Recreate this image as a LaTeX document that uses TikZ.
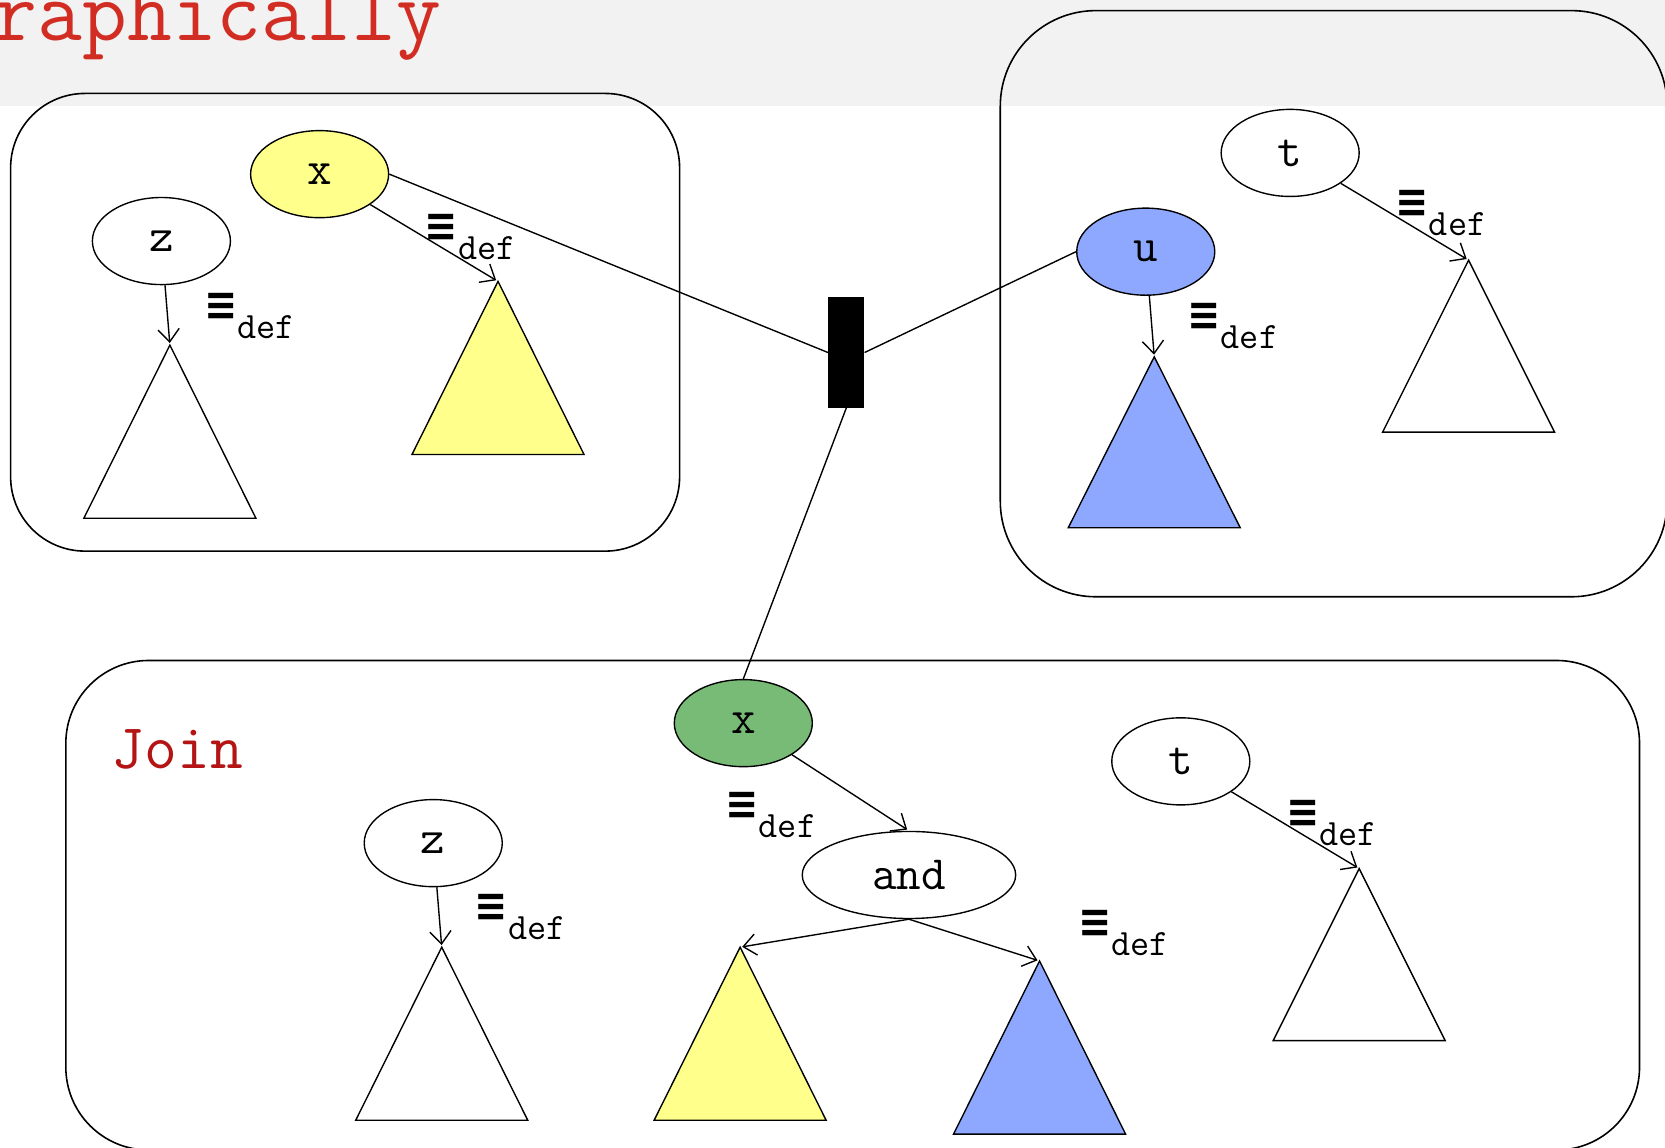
\documentclass[tikz,border=0pt]{standalone}
\usepackage{fontspec}
\usetikzlibrary{shapes.geometric,arrows.meta}
\newfontfamily\cour{Latin Modern Mono}
\newfontfamily\eqvfont{DejaVu Sans}
\definecolor{greybg}{RGB}{242,242,242}
\definecolor{titlered}{RGB}{210,45,35}
\definecolor{joinred}{RGB}{180,20,20}
\definecolor{yel}{RGB}{255,255,140}
\definecolor{blu}{RGB}{143,168,255}
\definecolor{grn}{RGB}{119,187,119}
\newcommand{\eqdef}{{\eqvfont\bfseries\fontsize{30}{30}\selectfont\scalebox{1.25}[1.45]{≡}}\raisebox{-17pt}{\cour\fontsize{35}{35}\selectfont def}}
\tikzset{
  ln/.style={line width=1.3pt},
  tree/.style={ellipse, draw, line width=1.3pt, minimum width=130pt, minimum height=82pt, inner sep=0pt, font=\cour\fontsize{45}{45}\selectfont},
  arr/.style={line width=1.3pt, -{Straight Barb[length=12pt,width=20pt,line width=1.3pt]}, shorten >=2pt},
  tri/.style={draw, line width=1.3pt, line join=miter},
  lbl/.style={anchor=base west, inner sep=0pt},
  panel/.style={draw, line width=1.5pt},
}
\begin{document}
\begin{tikzpicture}[x=1pt,y=-1pt]
\useasboundingbox (0,0) rectangle (1568,1081);
\clip (0,0) rectangle (1568,1081);
\fill[greybg] (0,0) rectangle (1568,100);
\node[anchor=base west, text=titlered, font=\cour\fontsize{82}{82}\selectfont, inner sep=0pt] (title) at (-7,38) {raphically};

% panels
\draw[panel, rounded corners=70pt] (10,88) rectangle (640,519);
\draw[panel, rounded corners=90pt] (942,10) rectangle (1570,562);
\draw[panel, rounded corners=78pt] (62,622) rectangle (1544,1083);

% top-left panel
\node[tree] (z1) at (152,227) {z};
\node[tree, fill=yel] (x1) at (301,164) {x};
\coordinate (tz1) at (160,325);
\coordinate (tx1) at (469,265);
\draw[tri] (tz1) -- ++(-81,163) -- ++(162,0) -- cycle;
\draw[tri, fill=yel] (tx1) -- ++(-81,163) -- ++(162,0) -- cycle;
\draw[arr] (z1) -- (tz1);
\draw[arr] (x1) -- (tx1);
\node[lbl] (l1) at (192,302) {\eqdef};
\node[lbl] (l2) at (400,227) {\eqdef};

% top-right panel
\node[tree] (t1) at (1215,144) {t};
\node[tree, fill=blu] (u1) at (1079,237) {u};
\coordinate (tt1) at (1383,245);
\coordinate (tu1) at (1087,336);
\draw[tri] (tt1) -- ++(-81,162) -- ++(162,0) -- cycle;
\draw[tri, fill=blu] (tu1) -- ++(-81,161) -- ++(162,0) -- cycle;
\draw[arr] (t1) -- (tt1);
\draw[arr] (u1) -- (tu1);
\node[lbl] (l3) at (1314,205) {\eqdef};
\node[lbl] (l4) at (1118,311) {\eqdef};

% join bar
\node[fill=black, minimum width=34pt, minimum height=104pt, inner sep=0pt] (bar) at (797,332) {};

% bottom panel
\node[anchor=base west, text=joinred, font=\cour\fontsize{60}{60}\selectfont, inner sep=0pt] (join) at (105,724) {Join};
\node[tree, fill=grn] (x2) at (700,681) {x};
\node[tree, minimum width=201pt] (and) at (856,824) {and};
\node[tree] (z2) at (408,794) {z};
\node[tree] (t2) at (1112,717) {t};
\coordinate (tz2) at (416,892);
\coordinate (ty2) at (697,892);
\coordinate (tb2) at (979,905);
\coordinate (tt2) at (1280,818);
\draw[tri] (tz2) -- ++(-81,163) -- ++(162,0) -- cycle;
\draw[tri, fill=yel] (ty2) -- ++(-81,163) -- ++(162,0) -- cycle;
\draw[tri, fill=blu] (tb2) -- ++(-81,163) -- ++(162,0) -- cycle;
\draw[tri] (tt2) -- ++(-81,162) -- ++(162,0) -- cycle;
\draw[arr] (x2) -- (and.north);
\draw[arr] (and.south) -- (ty2);
\draw[arr] (and.south) -- (tb2);
\draw[arr] (z2) -- (tz2);
\draw[arr] (t2) -- (tt2);
\node[lbl] (l5) at (683,772) {\eqdef};
\node[lbl] (l6) at (1211,779) {\eqdef};
\node[lbl] (l7) at (447,868) {\eqdef};
\node[lbl] (l8) at (1015,883) {\eqdef};

% connectors to bar
\draw[ln] (x1.east) -- (bar.west);
\draw[ln] (u1.west) -- (bar.east);
\draw[ln] (bar.south) -- (x2.north);
\end{tikzpicture}
\end{document}
